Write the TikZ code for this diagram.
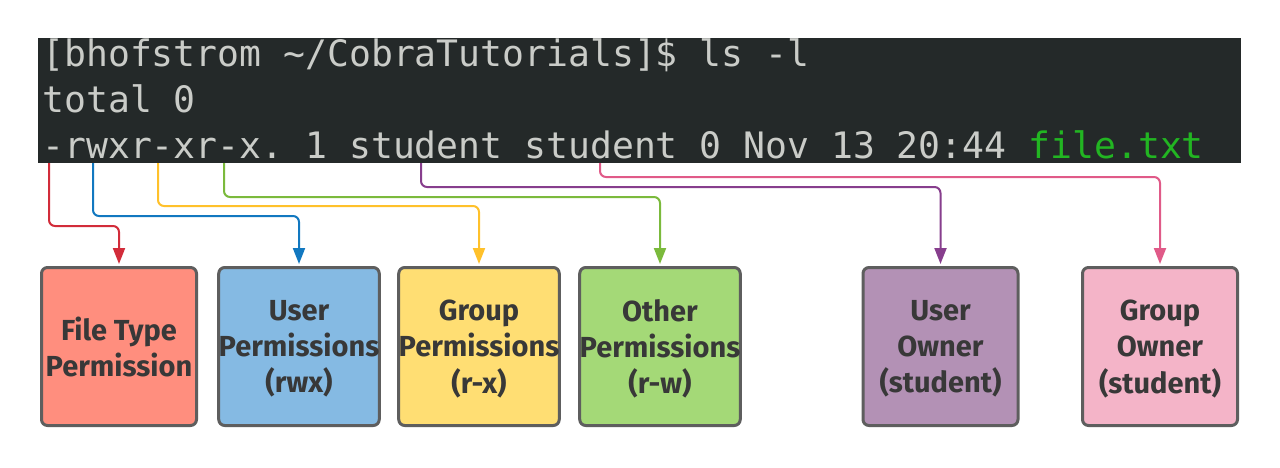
\documentclass[tikz,border=0pt]{standalone}
\usepackage{fontspec}
\setmonofont{DejaVu Sans Mono}
\setsansfont{Fira Sans}
\usetikzlibrary{arrows.meta}
\definecolor{termbg}{HTML}{242929}
\definecolor{termfg}{HTML}{CACCC8}
\definecolor{filegreen}{HTML}{22B522}
\definecolor{boxedge}{HTML}{5E5E5E}
\definecolor{boxtext}{HTML}{383838}
\definecolor{bx1}{HTML}{FF8E7E}
\definecolor{bx2}{HTML}{85BAE3}
\definecolor{bx3}{HTML}{FFDE73}
\definecolor{bx4}{HTML}{A4D977}
\definecolor{bx5}{HTML}{B391B5}
\definecolor{bx6}{HTML}{F4B4C8}
\definecolor{a1}{HTML}{D22C3A}
\definecolor{a2}{HTML}{1278C0}
\definecolor{a3}{HTML}{FFC12B}
\definecolor{a4}{HTML}{7BBA3C}
\definecolor{a5}{HTML}{873E8D}
\definecolor{a6}{HTML}{E05A88}
\begin{document}
\begin{tikzpicture}[x=0.5pt,y=-0.5pt,
  termtext/.style={anchor=base west,inner sep=0pt,text=termfg,font=\ttfamily\fontsize{18.2}{20}\selectfont},
  infobox/.style={draw=boxedge,line width=1.5pt,rounded corners=3pt,minimum width=77.5pt,minimum height=79pt,align=center,text=boxtext,font=\sffamily\bfseries\fontsize{14.5}{18.2}\selectfont,inner sep=0pt,text depth=0pt},
  conn/.style={line width=1pt,rounded corners=3pt,-{Triangle[length=8pt,width=6pt]},shorten >=1pt}]
\useasboundingbox[fill=white] (0,0) rectangle (1280,467);
% terminal
\node[fill=termbg,inner sep=0pt,minimum width=601.5pt,minimum height=62.5pt] (term) at (639.5,100.5) {};
\node[termtext] (l1) at (42,66) {[bhofstrom \textasciitilde/CobraTutorials]\$ ls -l};
\node[termtext] (l2) at (42,112) {total 0};
\node[termtext] (l3) at (42,158) {-rwxr-xr-x. 1 student student 0 Nov 13 20:44 \textcolor{filegreen}{file.txt}};
% boxes
\node[infobox,fill=bx1] (b1) at (119,346.5) {File Type\\Permission};
\node[infobox,fill=bx2] (b2) at (299,346.5) {User\\Permissions\\(rwx)};
\node[infobox,fill=bx3] (b3) at (479,346.5) {Group\\Permissions\\(r-x)};
\node[infobox,fill=bx4] (b4) at (660,346.5) {Other\\Permissions\\(r-w)};
\node[infobox,fill=bx5] (b5) at (940.5,346.5) {User\\Owner\\(student)};
\node[infobox,fill=bx6] (b6) at (1160,346.5) {Group\\Owner\\(student)};
% connector starts
\coordinate (s1) at (49,163);
\coordinate (s2) at (93,163);
\coordinate (s3) at (158,163);
\coordinate (s4) at (224,163);
\coordinate (s5) at (421,163);
\coordinate (s6) at (600,163);
\draw[conn,a1] (s1) -- ++(0,63) -| (b1.north);
\draw[conn,a2] (s2) -- ++(0,53) -| (b2.north);
\draw[conn,a3] (s3) -- ++(0,43) -| (b3.north);
\draw[conn,a4] (s4) -- ++(0,34) -| (b4.north);
\draw[conn,a5] (s5) -- ++(0,24) -| (b5.north);
\draw[conn,a6] (s6) -- ++(0,14) -| (b6.north);
\end{tikzpicture}
\end{document}
